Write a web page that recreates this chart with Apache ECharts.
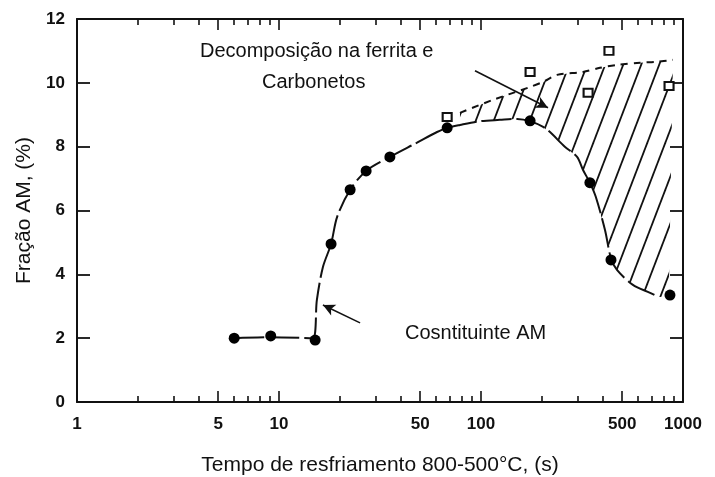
<!DOCTYPE html>
<html>
<head>
<meta charset="utf-8">
<script src="https://cdn.jsdelivr.net/npm/echarts@6/dist/echarts.min.js"></script>
<style>
  html, body { margin: 0; padding: 0; background: #fff; }
  #chart { width: 715px; height: 477px; }
</style>
</head>
<body>
<div id="chart"></div>
<script>
// Measured AM fraction (filled circles)
const dotX = [6, 9.1, 15.1, 18.1, 22.5, 27, 35.4, 68, 175, 346, 440, 862];
const dotY = [2.0, 2.07, 1.94, 4.95, 6.65, 7.24, 7.68, 8.59, 8.81, 6.87, 4.45, 3.35];

// Open squares (AM before decomposition)
const squareX = [68, 175, 339, 430, 853];
const squareY = [8.93, 10.34, 9.69, 11.0, 9.9];

// Trend of remaining AM constituent (lower curve)
const lowerX = [6, 9.1, 14.7, 15.4, 16.5, 18.1, 19.4, 22.5, 27, 35.4, 48, 60.6, 68, 78.7, 100, 124, 151, 203, 260, 299, 320, 346, 370, 411, 440, 471, 565, 687, 760];
const lowerY = [2.0, 2.03, 2.0, 3.2, 4.23, 4.95, 5.8, 6.65, 7.24, 7.68, 8.12, 8.46, 8.59, 8.68, 8.8, 8.84, 8.87, 8.62, 8.0, 7.68, 7.27, 6.87, 6.43, 5.39, 4.5, 4.14, 3.67, 3.42, 3.29];

// Trend of total AM before decomposition (upper dashed curve)
const upperX = [78.7, 115, 175, 203, 238, 320, 388, 471, 613, 743, 892];
const upperY = [9.06, 9.47, 9.87, 10.03, 10.25, 10.34, 10.47, 10.56, 10.63, 10.66, 10.72];

// Right end of the hatched band
const bandEndX = [892, 850];
const bandEndY = [10.72, 3.3];

// Axis ticks
const xLabelTicks = [1, 5, 10, 50, 100, 500, 1000];
const xMinorTicks = [2, 3, 4, 6, 7, 8, 9, 20, 30, 40, 60, 70, 80, 90, 200, 300, 400, 600, 700, 800, 900];
const yTicks = [0, 2, 4, 6, 8, 10, 12];

const zip = (xs, ys) => xs.map((x, i) => [x, ys[i]]);

// Diagonal hatch tile
function hatchPattern() {
  const W = 18, H = 47;
  const c = document.createElement('canvas');
  c.width = W; c.height = H;
  const ctx = c.getContext('2d');
  ctx.strokeStyle = '#111';
  ctx.lineWidth = 1.8;
  for (let k = -1; k <= 1; k++) {
    ctx.beginPath();
    ctx.moveTo(k * W - W, 2 * H);
    ctx.lineTo(k * W + 2 * W, -H);
    ctx.stroke();
  }
  return c;
}
const hatch = { image: hatchPattern(), repeat: 'repeat' };

const FONT = 'Liberation Sans, Arial, sans-serif';
const tickFmt = v => String(Math.round(v));

function xAxisDef(position, ticks, len, showLine, showLabel) {
  return {
    type: 'log', logBase: 10, min: 1, max: 1000, position: position,
    axisLine: { show: showLine, onZero: false, lineStyle: { color: '#111', width: 2 } },
    axisTick: { show: true, inside: true, length: len, customValues: ticks, lineStyle: { color: '#111', width: 1.6 } },
    axisLabel: showLabel ? {
      show: true, customValues: ticks, formatter: tickFmt, margin: 14,
      color: '#111', fontFamily: FONT, fontWeight: 'bold', fontSize: 17
    } : { show: false },
    splitLine: { show: false },
    minorTick: { show: false }
  };
}

const chart = echarts.init(document.getElementById('chart'), null, { renderer: 'canvas' });
chart.setOption({
  animation: false,
  backgroundColor: '#fff',
  grid: { left: 77, right: 32, top: 19, bottom: 75, containLabel: false, outerBoundsMode: 'none' },
  xAxis: [
    Object.assign(xAxisDef('bottom', xLabelTicks, 11, true, true), {
      name: 'Tempo de resfriamento 800-500°C, (s)',
      nameLocation: 'middle', nameGap: 53,
      nameTextStyle: { color: '#111', fontFamily: FONT, fontSize: 21 }
    }),
    xAxisDef('bottom', xMinorTicks, 6, false, false),
    xAxisDef('top', xLabelTicks, 11, true, false),
    xAxisDef('top', xMinorTicks, 6, false, false)
  ],
  yAxis: [
    {
      type: 'value', min: 0, max: 12, interval: 2, position: 'left',
      name: 'Fração AM, (%)', nameLocation: 'middle', nameGap: 40,
      nameTextStyle: { color: '#111', fontFamily: FONT, fontSize: 21 },
      axisLine: { show: true, lineStyle: { color: '#111', width: 2 } },
      axisTick: { show: true, inside: true, length: 13, lineStyle: { color: '#111', width: 1.8 } },
      axisLabel: { color: '#111', fontFamily: FONT, fontWeight: 'bold', fontSize: 17, margin: 12, customValues: yTicks },
      splitLine: { show: false }
    },
    {
      type: 'value', min: 0, max: 12, interval: 2, position: 'right',
      axisLine: { show: true, lineStyle: { color: '#111', width: 2 } },
      axisTick: { show: true, inside: true, length: 13, lineStyle: { color: '#111', width: 1.8 } },
      axisLabel: { show: false },
      splitLine: { show: false }
    }
  ],
  series: [
    {
      // hatched band between the two trends
      type: 'custom',
      xAxisIndex: 0, yAxisIndex: 0,
      clip: true, silent: true, z: 1,
      data: zip(upperX, upperY),
      renderItem: function (params, api) {
        if (params.dataIndex !== 0) return null;
        const top = zip(upperX, upperY).map(p => api.coord(p));
        const right = zip(bandEndX, bandEndY).slice(1).map(p => api.coord(p));
        const bottom = zip(lowerX, lowerY)
          .filter(p => p[0] >= upperX[0] && p[0] <= bandEndX[1])
          .reverse().map(p => api.coord(p));
        return {
          type: 'polygon',
          shape: { points: top.concat(right, bottom) },
          style: { fill: hatch, stroke: null }
        };
      }
    },
    {
      type: 'line', data: zip(upperX, upperY), smooth: 0.3,
      showSymbol: false, silent: true, z: 3,
      lineStyle: { color: '#111', width: 2, type: [7, 6] }
    },
    {
      type: 'line', data: zip(lowerX, lowerY), smooth: 0.3,
      showSymbol: false, silent: true, z: 3,
      lineStyle: { color: '#111', width: 2, type: [30, 5] },
      markLine: {
        silent: true, symbol: ['none', 'arrow'], symbolSize: [9, 12],
        label: { show: false },
        lineStyle: { color: '#111', width: 1.6, type: 'solid' },
        data: [
          [{ coord: [93.4, 10.38] }, { coord: [214.6, 9.22] }],
          [{ coord: [25.2, 2.48] }, { coord: [16.5, 3.04] }]
        ]
      }
    },
    {
      type: 'scatter', data: zip(squareX, squareY), z: 4,
      symbol: 'rect', symbolSize: [9, 8],
      itemStyle: { color: '#fff', borderColor: '#111', borderWidth: 2, opacity: 1 }
    },
    {
      type: 'scatter', data: zip(dotX, dotY), z: 5,
      symbol: 'circle', symbolSize: 11,
      itemStyle: { color: '#000', opacity: 1 }
    }
  ],
  graphic: [
    { type: 'text', x: 200, y: 51, style: { text: 'Decomposição na ferrita e', font: '20px ' + FONT, fill: '#111', textVerticalAlign: 'middle' } },
    { type: 'text', x: 262, y: 82, style: { text: 'Carbonetos', font: '20px ' + FONT, fill: '#111', textVerticalAlign: 'middle' } },
    { type: 'text', x: 405, y: 333, style: { text: 'Cosntituinte AM', font: '20px ' + FONT, fill: '#111', textVerticalAlign: 'middle' } }
  ]
});
</script>
</body>
</html>
